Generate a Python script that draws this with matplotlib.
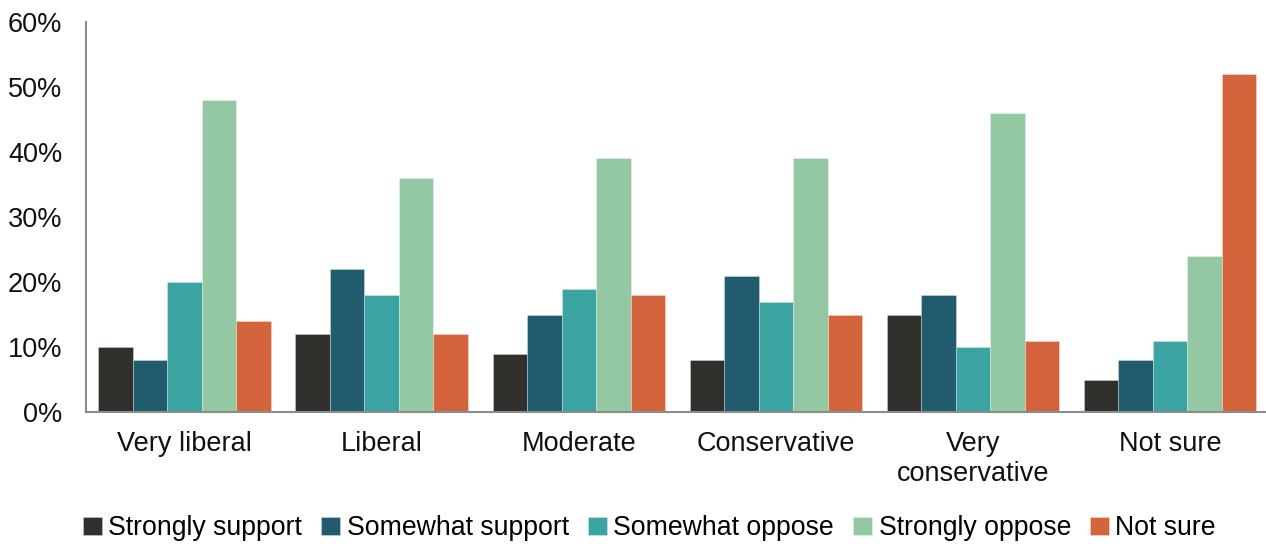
import matplotlib
matplotlib.use("Agg")
import matplotlib.pyplot as plt
import numpy as np

plt.rcParams['font.family'] = ['Liberation Sans', 'DejaVu Sans']

categories = ["Very liberal", "Liberal", "Moderate", "Conservative",
              "Very\nconservative", "Not sure"]
series_names = ["Strongly support", "Somewhat support", "Somewhat oppose",
                "Strongly oppose", "Not sure"]
strongly_support = [10, 12, 9, 8, 15, 5]
somewhat_support = [8, 22, 15, 21, 18, 8]
somewhat_oppose = [20, 18, 19, 17, 10, 11]
strongly_oppose = [48, 36, 39, 39, 46, 24]
not_sure = [14, 12, 18, 15, 11, 52]
y_ticks = [0, 10, 20, 30, 40, 50, 60]

series = [strongly_support, somewhat_support, somewhat_oppose,
          strongly_oppose, not_sure]
colors = ["#2f302b", "#215b6e", "#3ca3a3", "#93c8a2", "#d4643b"]

fig = plt.figure(figsize=(12.66, 5.44), dpi=100)
ax = fig.add_axes([0.068, 0.2426, 0.934, 0.717])

x = np.arange(len(categories))
n = len(series)
width = 0.875 / n
for i, (vals, col, name) in enumerate(zip(series, colors, series_names)):
    offs = (i - (n - 1) / 2) * width
    ax.bar(x + offs, vals, width=width, color=col, label=name,
           edgecolor=(1, 1, 1, 0.35), linewidth=0.6)

ax.set_xlim(-0.5, len(categories) - 0.5)
ax.set_ylim(0, 60)
ax.set_yticks(y_ticks)
ax.set_yticklabels([f"{t}%" for t in y_ticks], fontsize=19.5, color="#111111")
ax.set_xticks(x)
ax.set_xticklabels(categories, fontsize=19.5, color="#111111", linespacing=1.2)
ax.tick_params(axis='y', length=0, pad=17)
ax.tick_params(axis='x', length=0, pad=14)

for s in ["top", "right"]:
    ax.spines[s].set_visible(False)
for s in ["left", "bottom"]:
    ax.spines[s].set_color("#8c8c8c")
    ax.spines[s].set_linewidth(1.5)

leg = fig.legend(loc="center", bbox_to_anchor=(0.513, 0.029), ncol=5,
                 frameon=False, fontsize=19.2, handlelength=0.7,
                 handleheight=0.7, handletextpad=0.25, columnspacing=0.72)

fig.savefig("out.png", dpi=100)
